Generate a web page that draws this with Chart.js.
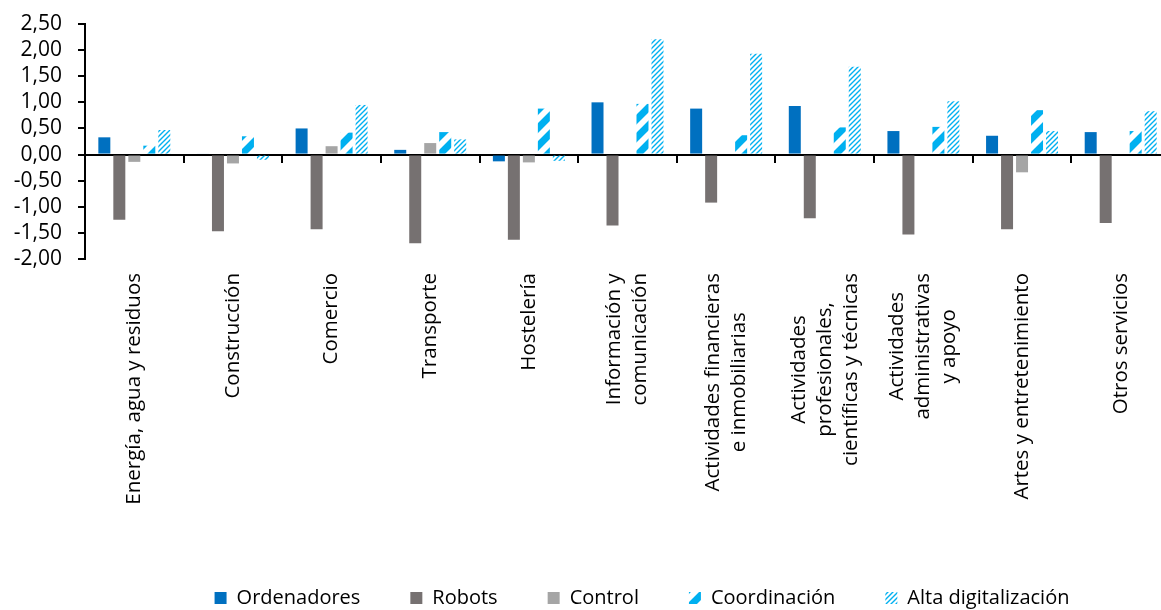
<!DOCTYPE html>
<html lang="es">
<head>
<meta charset="utf-8">
<title>Indicadores por sector</title>
<script src="https://cdn.jsdelivr.net/npm/chart.js@4/dist/chart.umd.min.js"></script>
<style>
    html, body { margin: 0; padding: 0; background: #fff; overflow: hidden; }
    canvas { display: block; }
</style>
</head>
<body>
<canvas id="sectorChart" width="1170" height="610"></canvas>
<script>
// Sectores (eje X) y series por indicador
const categories = [
    'Energía, agua y residuos',
    'Construcción',
    'Comercio',
    'Transporte',
    'Hostelería',
    ['Información y', 'comunicación'],
    ['Actividades financieras', 'e inmobiliarias'],
    ['Actividades', 'profesionales,', 'científicas y técnicas'],
    ['Actividades', 'administrativas', 'y apoyo'],
    'Artes y entretenimiento',
    'Otros servicios'
];
const ordenadores = [0.33, 0.02, 0.50, 0.09, -0.13, 1.00, 0.88, 0.93, 0.45, 0.36, 0.43];
const robots = [-1.25, -1.47, -1.43, -1.70, -1.63, -1.36, -0.92, -1.22, -1.53, -1.43, -1.31];
const control = [-0.14, -0.17, 0.16, 0.22, -0.15, 0, 0, 0, 0, -0.34, 0];
const coordinacion = [0.17, 0.35, 0.42, 0.43, 0.88, 0.97, 0.37, 0.52, 0.53, 0.85, 0.45];
const altaDigitalizacion = [0.47, -0.10, 0.95, 0.29, -0.12, 2.21, 1.93, 1.68, 1.02, 0.45, 0.83];

const yMin = -2.0;
const yMax = 2.5;
const yStep = 0.5;

const FONT = '"Open Sans", "DejaVu Sans", sans-serif';
Chart.defaults.font.family = FONT;
Chart.defaults.color = '#000';

// Tramas diagonales para las dos series rayadas
function diagonalPattern(size, width, color) {
    const c = document.createElement('canvas');
    c.width = size;
    c.height = size;
    const g = c.getContext('2d');
    g.strokeStyle = color;
    g.lineWidth = width;
    g.lineCap = 'square';
    g.beginPath();
    g.moveTo(0, size);
    g.lineTo(size, 0);
    g.moveTo(-size / 2, size / 2);
    g.lineTo(size / 2, -size / 2);
    g.moveTo(size / 2, size * 1.5);
    g.lineTo(size * 1.5, size / 2);
    g.stroke();
    return g.createPattern(c, 'repeat');
}

const ctx = document.getElementById('sectorChart').getContext('2d');
const widePattern = diagonalPattern(18, 7, '#00B0F0');
const lightPattern = diagonalPattern(5, 1.4, '#00B0F0');

// Etiquetas de sector giradas, con las líneas centradas entre sí
const sectorLabels = {
    id: 'sectorLabels',
    afterDraw(chart) {
        const c = chart.ctx;
        const axis = chart.scales.x;
        const top = chart.chartArea.bottom + 14;
        const lineHeight = 26;
        c.save();
        c.font = '20.5px ' + FONT;
        c.fillStyle = '#000';
        c.textAlign = 'center';
        c.textBaseline = 'middle';
        categories.forEach((label, i) => {
            const lines = [].concat(label);
            const widest = Math.max(...lines.map(l => c.measureText(l).width));
            c.save();
            c.translate(axis.getPixelForValue(i), top + widest / 2);
            c.rotate(-Math.PI / 2);
            lines.forEach((line, j) => {
                c.fillText(line, 0, (j - (lines.length - 1) / 2) * lineHeight);
            });
            c.restore();
        });
        c.restore();
    }
};

// La leyenda va algo más abajo y desplazada a la derecha
const legendOffset = {
    id: 'legendOffset',
    afterLayout(chart) {
        const lg = chart.legend;
        lg.left += 57;
        lg.right += 57;
        lg.top += 8;
        lg.bottom += 8;
    }
};

new Chart(ctx, {
    type: 'bar',
    data: {
        labels: categories,
        datasets: [{
            label: 'Ordenadores',
            data: ordenadores,
            backgroundColor: '#0070C0'
        }, {
            label: 'Robots',
            data: robots,
            backgroundColor: '#767171'
        }, {
            label: 'Control',
            data: control,
            backgroundColor: '#A5A5A5'
        }, {
            label: 'Coordinación',
            data: coordinacion,
            backgroundColor: widePattern
        }, {
            label: 'Alta digitalización',
            data: altaDigitalizacion,
            backgroundColor: lightPattern
        }]
    },
    options: {
        responsive: false,
        animation: false,
        events: [],
        categoryPercentage: 0.76,
        barPercentage: 0.8,
        borderWidth: 0,
        layout: {
            padding: { top: 24, left: 0, right: 0, bottom: 0 }
        },
        plugins: {
            tooltip: { enabled: false },
            legend: {
                position: 'bottom',
                labels: {
                    boxWidth: 12,
                    boxHeight: 12,
                    padding: 50,
                    font: { size: 20 },
                    color: '#000'
                }
            }
        },
        scales: {
            x: {
                position: { y: 0 },
                offset: true,
                ticks: { display: false },
                grid: {
                    offset: true,
                    drawOnChartArea: false,
                    drawTicks: true,
                    tickLength: 7,
                    color: '#000',
                    lineWidth: 2
                },
                border: { color: '#000', width: 2 }
            },
            x2: {
                type: 'category',
                labels: categories,
                position: 'bottom',
                offset: true,
                grid: { display: false },
                border: { display: false },
                ticks: { display: false },
                afterFit(scale) {
                    scale.height = 271;
                }
            },
            y: {
                min: yMin,
                max: yMax,
                ticks: {
                    stepSize: yStep,
                    autoSkip: false,
                    padding: 16,
                    font: { size: 21 },
                    color: '#000',
                    callback: v => v.toFixed(2).replace('.', ',')
                },
                grid: {
                    drawOnChartArea: false,
                    drawTicks: true,
                    tickLength: 7,
                    color: '#000',
                    lineWidth: 2
                },
                border: { color: '#000', width: 2 },
                afterFit(scale) {
                    scale.width = 85;
                    scale.paddingTop = 0;
                    scale.paddingBottom = 0;
                }
            }
        }
    },
    plugins: [sectorLabels, legendOffset]
});
</script>
</body>
</html>
